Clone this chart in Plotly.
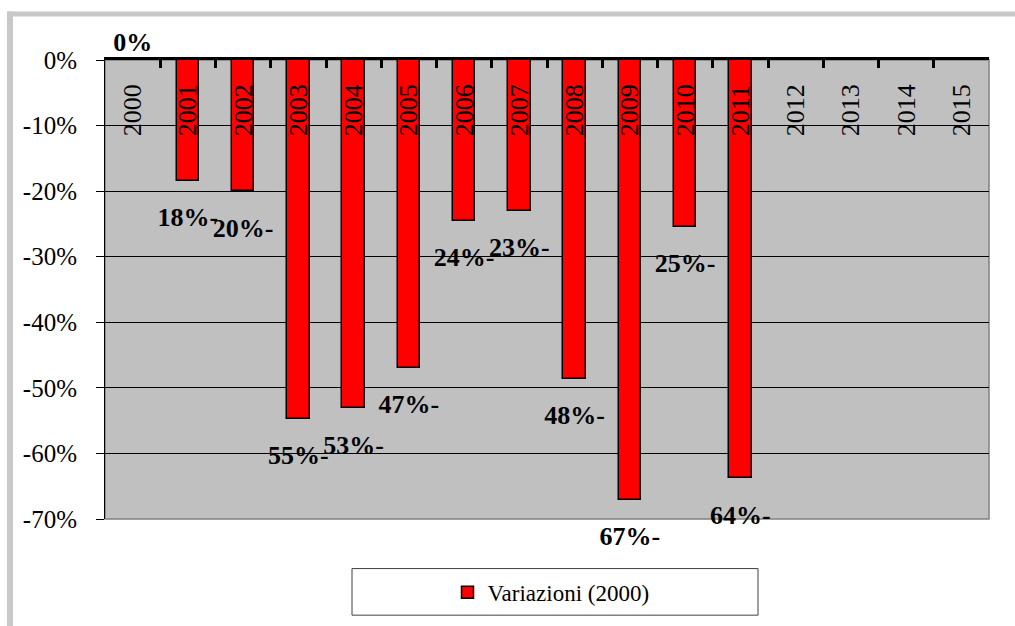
import plotly.graph_objects as go

# Variazioni percentuali rispetto al 2000
anni = [str(a) for a in range(2000, 2016)]
variazioni = [0, -18.4, -20.0, -54.7, -53.1, -46.9, -24.5, -23.0,
              -48.6, -67.1, -25.4, -63.8, None, None, None, None]
etichette = ["0%", "18%-", "20%-", "55%-", "53%-", "47%-", "24%-", "23%-",
             "48%-", "67%-", "25%-", "64%-", None, None, None, None]
y_ticks = [0, -10, -20, -30, -40, -50, -60, -70]
y_tick_text = ["0%", "-10%", "-20%", "-30%", "-40%", "-50%", "-60%", "-70%"]

W, H = 1015, 626
ML, MR, MT, MB = 105, 26, 60, 103
PW, PH = W - ML - MR, H - MT - MB


def px_x(px):
    return (px - ML) / PW


def px_y(py):
    return (H - MB - py) / PH


SERIF = "Liberation Serif"

fig = go.Figure()
fig.add_trace(go.Bar(
    x=anni, y=variazioni, name="Variazioni (2000)",
    marker=dict(color="#FF0000", line=dict(color="#000000", width=1.5)),
    width=0.41,
))

# value labels: text points at each bar end, pushed away by an invisible marker
lx = [a for a, v in zip(anni, variazioni) if v is not None]
ly = [v for v in variazioni if v is not None]
lt = ["<b>" + t + "</b>" for t in etichette if t is not None]
lpos = ["top center" if v >= 0 else "bottom center" for v in ly]
fig.add_trace(go.Scatter(
    x=lx, y=ly, text=lt, mode="markers+text", textposition=lpos,
    marker=dict(size=[2 if v >= 0 else 40 for v in ly], opacity=0),
    textfont=dict(family=SERIF, size=26, color="#000000"),
    showlegend=False, hoverinfo="skip", cliponaxis=False,
))

# plot-area frame (right and bottom edges in grey)
fig.add_shape(type="rect", xref="paper", yref="paper", x0=0, y0=0, x1=1, y1=1,
              line=dict(color="#808080", width=1.5), layer="below")

# outer chart border (left and top edges)
fig.add_shape(type="rect", xref="paper", yref="paper",
              x0=px_x(7), x1=px_x(13), y0=px_y(H + 5), y1=px_y(11),
              line=dict(width=0), fillcolor="#C8C8C8", layer="above")
fig.add_shape(type="rect", xref="paper", yref="paper",
              x0=px_x(7), x1=px_x(W + 5), y0=px_y(16), y1=px_y(11),
              line=dict(width=0), fillcolor="#C8C8C8", layer="above")

# legend box
fig.add_shape(type="rect", xref="paper", yref="paper",
              x0=px_x(352), x1=px_x(758), y0=px_y(620), y1=px_y(573),
              line=dict(color="#404040", width=1), fillcolor="#FFFFFF",
              layer="above")

# year labels on a second category axis placed inside the plot area
fig.add_trace(go.Bar(x=anni, y=[None] * len(anni), xaxis="x2",
                     showlegend=False, hoverinfo="skip"))

fig.update_layout(
    width=W, height=H,
    margin=dict(l=ML, r=MR, t=MT, b=MB, pad=0),
    paper_bgcolor="#FFFFFF", plot_bgcolor="#C0C0C0",
    font=dict(family=SERIF, color="#000000"),
    bargap=0,
    showlegend=True,
    legend=dict(
        orientation="h", x=px_x(551), y=px_y(597),
        xanchor="center", yanchor="middle",
        bgcolor="rgba(0,0,0,0)", borderwidth=0,
        font=dict(family=SERIF, size=23, color="#000000"),
    ),
    xaxis=dict(
        type="category", side="top", range=[-0.5, 15.5],
        showline=True, linecolor="#000000", linewidth=3,
        ticks="inside", tickson="boundaries", ticklen=8, tickwidth=3,
        tickcolor="#000000",
        showticklabels=False,
        showgrid=False, zeroline=False,
    ),
    xaxis2=dict(
        type="category", side="top", range=[-0.5, 15.5],
        overlaying="x", anchor="free", position=px_y(137),
        showline=False, ticks="", tickangle=-90,
        tickfont=dict(family=SERIF, size=26, color="#000000"),
        showgrid=False, zeroline=False,
    ),
    yaxis=dict(
        range=[-70, 0], tickvals=y_ticks, ticktext=y_tick_text,
        showline=True, linecolor="#000000", linewidth=1,
        ticks="outside", ticklen=8, tickwidth=1, tickcolor="#000000",
        ticklabelstandoff=14,
        tickfont=dict(family=SERIF, size=25, color="#000000"),
        showgrid=True, gridcolor="#000000", gridwidth=1,
        zeroline=False,
    ),
)

fig.write_html("out.html")
